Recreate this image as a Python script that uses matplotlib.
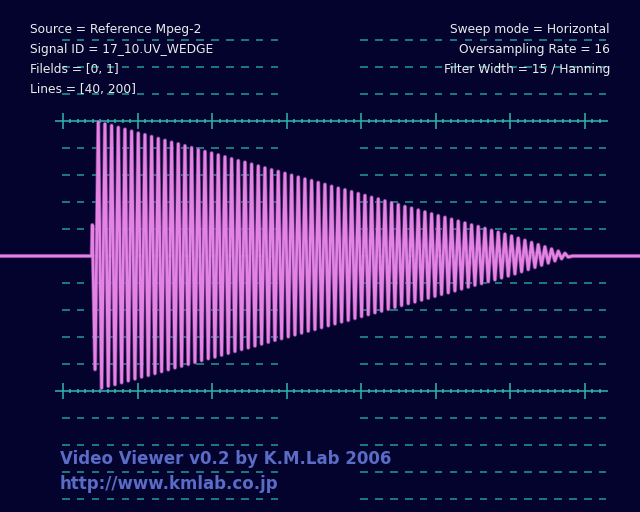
""" UV wedge test signal shown on a video waveform graticule """
import numpy as np
import matplotlib
matplotlib.use("Agg")
import matplotlib.pyplot as plt

# Header texts
info_left = ["Source = Reference Mpeg-2",
             "Signal ID = 17_10.UV_WEDGE",
             "Filelds = [0, 1]",
             "Lines = [40, 200]"]
info_right = ["Sweep mode = Horizontal",
              "Oversampling Rate = 16",
              "Filter Width = 15 / Hanning"]
footer = ["Video Viewer v0.2 by K.M.Lab 2006",
          "http://www.kmlab.co.jp"]

# Signal start (flat level, small step, first dip), x in graticule units
lead_x = [-8.5, 3.85, 3.93, 4.3]
lead_y = [0.0, 0.0, 11.5, -42.0]

# Burst timing
first_peak = 4.73
cycle = 0.894

# Positive peaks, one per cycle
peaks = [49.6, 48.9, 48.3, 47.6, 46.9, 46.2, 45.5, 44.9, 44.2, 43.5,
         42.8, 42.1, 41.5, 40.8, 40.1, 39.4, 38.7, 38.1, 37.4, 36.7,
         36.0, 35.3, 34.7, 34.0, 33.3, 32.6, 31.9, 31.3, 30.6, 29.9,
         29.2, 28.5, 27.9, 27.2, 26.5, 25.8, 25.1, 24.5, 23.8, 23.1,
         22.4, 21.7, 21.1, 20.4, 19.7, 19.0, 18.3, 17.7, 17.0, 16.3,
         15.6, 14.9, 14.3, 13.6, 12.9, 12.2, 11.5, 10.9, 10.2, 9.5,
         8.8, 8.1, 7.4, 6.6, 5.8, 5.0, 4.2, 3.4, 2.6, 1.8,
         1.0]

# Negative peaks, half a cycle after each positive one
troughs = [-48.9, -48.2, -47.6, -46.9, -46.2, -45.5, -44.8, -44.2, -43.5, -42.8,
           -42.1, -41.4, -40.8, -40.1, -39.4, -38.7, -38.0, -37.4, -36.7, -36.0,
           -35.3, -34.6, -34.0, -33.3, -32.6, -31.9, -31.2, -30.6, -29.9, -29.2,
           -28.5, -27.8, -27.2, -26.5, -25.8, -25.1, -24.4, -23.8, -23.1, -22.4,
           -21.7, -21.0, -20.4, -19.7, -19.0, -18.3, -17.6, -17.0, -16.3, -15.6,
           -14.9, -14.2, -13.6, -12.9, -12.2, -11.5, -10.8, -10.2, -9.5, -8.8,
           -8.1, -7.4, -6.6, -5.8, -5.0, -4.2, -3.4, -2.6, -1.8, -1.0,
           -0.4]

# Signal end
tail_x = [68.3, 77.5]
tail_y = [0.0, 0.0]

# Graticule
major_ticks = [0, 10, 20, 30, 40, 50, 60, 70]
minor_ticks = [t for t in range(0, 73) if t % 10]
dash_rows = [80, 70, 60, 40, 30, 20, 10, 0, -10, -20, -30, -40, -60, -70, -80, -90]
solid_rows = [50, -50]

BG = "#03032e"
GRID = "#229a98"
GRID_SOLID = "#2fb8ad"
TRACE = "#e384e3"
GLOW = "#9a44a8"

fig = plt.figure(figsize=(6.4, 5.12), dpi=100, facecolor=BG)
ax = fig.add_axes([0, 0, 1, 1])
ax.set_facecolor(BG)
ax.set_xlim(-8.45, 77.38)
ax.set_ylim(-94.8, 94.8)
ax.axis("off")

# dashed rows, with the empty division between 30 and 40
starts = np.array([2 * k - 0.12 for k in range(37) if not 15 <= k <= 19])
for row in dash_rows:
    ax.hlines(np.full(len(starts), row), starts, starts + 1.0,
              color=GRID, lw=1.1, zorder=1)

# solid rows with their ticks
for row in solid_rows:
    ax.hlines(row, -1.07, 73.1, color=GRID_SOLID, lw=1.1, zorder=1)
    ax.vlines(major_ticks, row - 2.8, row + 2.8, color=GRID_SOLID, lw=1.1, zorder=1)
    ax.vlines(minor_ticks, row - 0.9, row + 0.9, color=GRID_SOLID, lw=1.1, zorder=1)

# build the trace: lead, zig-zag through the peaks, tail
n = min(len(peaks), len(troughs))
wave_x = []
wave_y = []
for i in range(n):
    wave_x += [first_peak + i * cycle, first_peak + (i + 0.5) * cycle]
    wave_y += [peaks[i], troughs[i]]
trace_x = lead_x + wave_x + tail_x
trace_y = lead_y + wave_y + tail_y

ax.plot(trace_x, trace_y, color=GLOW, lw=3.0, alpha=0.75, zorder=2,
        solid_joinstyle="round")
ax.plot(trace_x, trace_y, color=TRACE, lw=1.9, zorder=3,
        solid_joinstyle="round")

# header texts
for i, line in enumerate(info_left):
    fig.text(30 / 640, 1 - (29 + 20 * i) / 512, line, color="#ececec",
             fontsize=8.8, va="center", ha="left", family="DejaVu Sans")
for i, line in enumerate(info_right):
    fig.text(610 / 640, 1 - (29 + 20 * i) / 512, line, color="#ececec",
             fontsize=8.8, va="center", ha="right", family="DejaVu Sans")

# footer
for i, line in enumerate(footer):
    fig.text(60 / 640, 1 - (459 + 25 * i) / 512, line, color="#5a6cc6",
             fontsize=12, fontweight="bold", va="center", ha="left",
             family="DejaVu Sans")

fig.savefig("out.png", dpi=100, facecolor=BG)
